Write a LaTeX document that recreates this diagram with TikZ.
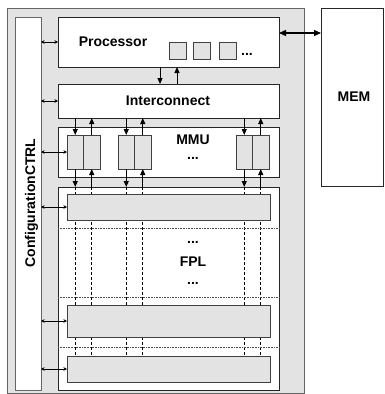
\documentclass[tikz,border=0pt]{standalone}
\usepackage{fontspec}
\setmainfont{Liberation Sans}
\usetikzlibrary{arrows.meta}
\definecolor{lg}{HTML}{E3E3E3}
\tikzset{
  base/.style={inner sep=0pt, outer sep=0pt, anchor=north west},
  framebox/.style={base, draw=black!60, fill=lg, line width=0.8pt},
  ctrlbox/.style={base, draw=black!60, fill=white, line width=0.8pt},
  wbox/.style={base, draw=black!85, fill=white, line width=0.7pt},
  gbox/.style={base, draw=black!75, fill=lg, line width=0.7pt},
  lbl/.style={font=\bfseries\fontsize{14}{16}\selectfont, inner sep=0pt},
  marrow/.style={-{Triangle[length=6pt,width=5pt]}, line width=1pt},
  sarrow/.style={{Stealth[length=3.5pt,width=3.5pt]}-{Stealth[length=3.5pt,width=3.5pt]}, line width=0.6pt},
  barrow/.style={{Triangle[length=7pt,width=6pt]}-{Triangle[length=7pt,width=6pt]}, line width=1.2pt},
  dline/.style={line width=1pt, dash pattern=on 3pt off 2pt},
  fdot/.style={line width=0.5pt, draw=black!70, dash pattern=on 0.8pt off 0.8pt},
}
\begin{document}
\begin{tikzpicture}[x=1pt,y=-1pt]
\useasboundingbox (0,0) rectangle (384,394);
% frame and control bar
\node[framebox, minimum width=297pt, minimum height=385pt] (frame) at (7,8) {};
\node[ctrlbox, minimum width=26pt, minimum height=373pt] (config) at (15,17) {};
\node[lbl, rotate=90, anchor=base] (cfgl) at (35,203) {ConfigurationCTRL};
% memory
\node[wbox, minimum width=62.6pt, minimum height=178pt] (mem) at (321,8) {};
\node[lbl] (meml) at (354,97) {MEM};
% processor
\node[wbox, minimum width=221pt, minimum height=50pt] (proc) at (58,17) {};
\node[lbl] (procl) at (113,42) {Processor};
\node[gbox, minimum width=17pt, minimum height=17pt] (sq1) at (169,42) {};
\node[gbox, minimum width=17pt, minimum height=17pt] (sq2) at (193,42) {};
\node[gbox, minimum width=17pt, minimum height=17pt] (sq3) at (219,42) {};
\node[lbl] (procd) at (247,54) {...};
% interconnect
\node[wbox, minimum width=221pt, minimum height=34pt] (inter) at (58,84) {};
\node[lbl] (interl) at (168,101) {Interconnect};
% MMU
\node[wbox, minimum width=221pt, minimum height=50pt] (mmu) at (58,127) {};
\node[lbl] (mmul) at (193,140) {MMU};
\node[lbl] (mmud) at (193,158) {...};
\foreach \n/\x in {1/67,2/118,3/236}{
  \node[gbox, minimum width=16.5pt, minimum height=34pt] (b\n l) at (\x,135) {};
  \node[gbox, minimum width=16.5pt, minimum height=34pt] (b\n r) at (\x+16.5,135) {};
}
% FPL
\node[wbox, minimum width=221pt, minimum height=203pt] (fpl) at (58,187) {};
\foreach \n in {1,2,3}{
  \draw[dline] (b\n l.south |- fpl.north) -- (b\n l.south |- 0,356);
  \draw[dline] (b\n r.south |- fpl.north) -- (b\n r.south |- 0,356);
}
\coordinate (d1) at (0,228);
\coordinate (d2) at (0,297);
\coordinate (d3) at (0,347);
\foreach \d in {d1,d2,d3}{
  \draw[fdot] (fpl.west |- \d) -- (fpl.east |- \d);
}
\node[gbox, minimum width=203pt, minimum height=26pt] (bar1) at (67,194) {};
\node[gbox, minimum width=203pt, minimum height=32pt] (bar2) at (67,305) {};
\node[gbox, minimum width=203pt, minimum height=26pt] (bar3) at (67,356) {};
\node[lbl] (fpld1) at (193,242) {...};
\node[lbl] (fpll) at (193,262) {FPL};
\node[lbl] (fpld2) at (193,283) {...};
% processor <-> interconnect
\coordinate (xa) at (160,0);
\coordinate (xb) at (177,0);
\draw[marrow] (proc.south -| xa) -- (inter.north -| xa);
\draw[marrow] (inter.north -| xb) -- (proc.south -| xb);
% interconnect <-> MMU buffers <-> FPL
\foreach \n in {1,2,3}{
  \draw[marrow] (b\n l.north |- inter.south) -- (b\n l.north);
  \draw[marrow] (b\n r.north) -- (b\n r.north |- inter.south);
  \draw[marrow] (b\n l.south) -- (b\n l.south |- fpl.north);
  \draw[marrow] (b\n r.south |- fpl.north) -- (b\n r.south);
}
% processor <-> memory
\coordinate (ym) at (0,33);
\draw[barrow] (proc.east |- ym) -- (mem.west |- ym);
% configuration links
\draw[sarrow] (config.east |- proc.west) -- (proc.west);
\draw[sarrow] (config.east |- inter.west) -- (inter.west);
\draw[sarrow] (config.east |- b1l.west) -- (b1l.west);
\draw[sarrow] (config.east |- bar1.west) -- (bar1.west);
\draw[sarrow] (config.east |- bar2.west) -- (bar2.west);
\draw[sarrow] (config.east |- bar3.west) -- (bar3.west);
\end{tikzpicture}
\end{document}
